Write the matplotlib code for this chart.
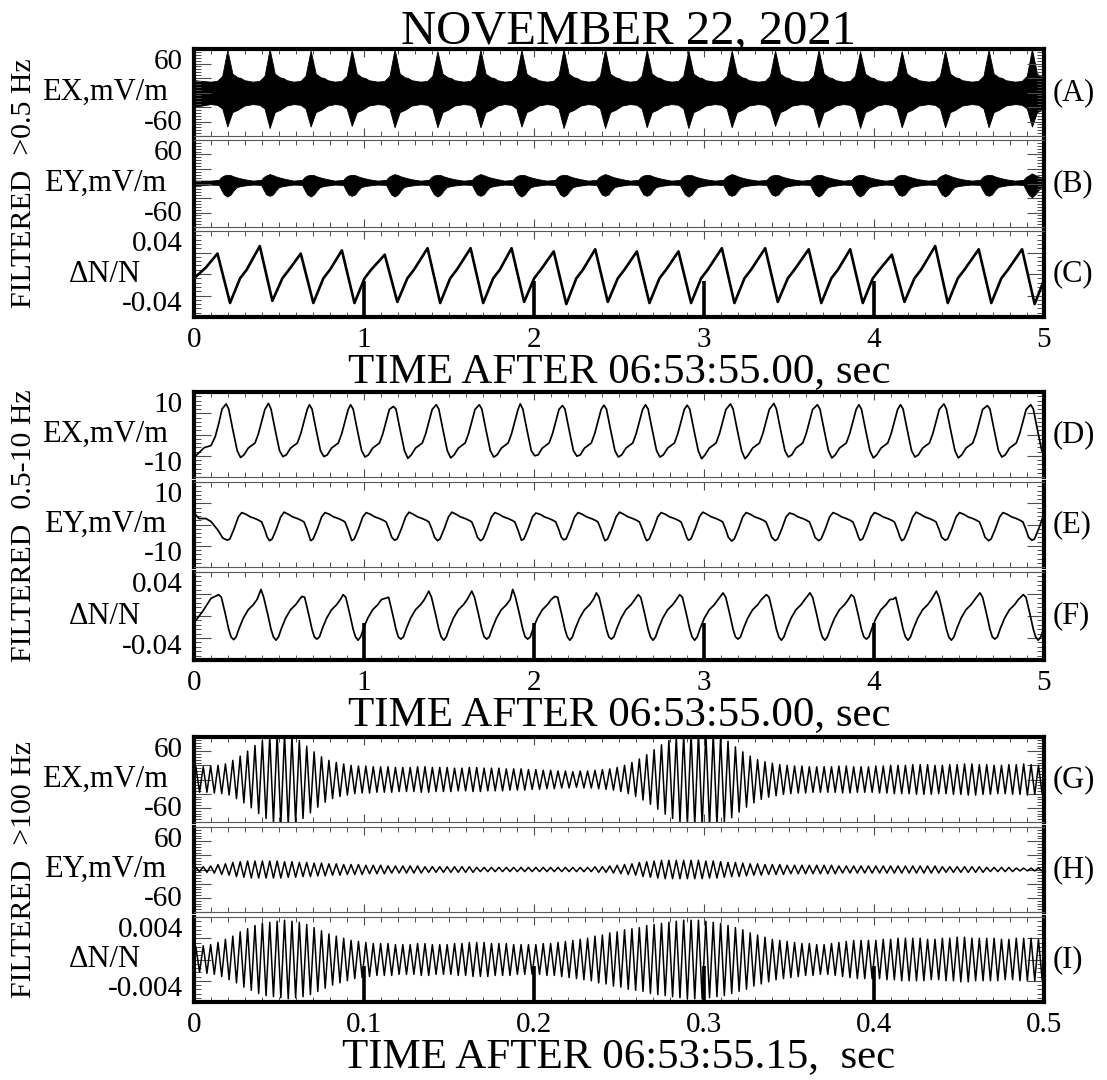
import numpy as np
import matplotlib.pyplot as plt
from matplotlib.ticker import MultipleLocator

plt.rcParams['font.family'] = ['Liberation Serif', 'DejaVu Serif']

title = 'NOVEMBER 22, 2021'

# times of the repeating bursts in the 5 s records (s after 06:53:55.00)
burst_t = [0.196, 0.445, 0.686, 0.928, 1.180, 1.432, 1.685, 1.926, 2.174, 2.418,
           2.663, 2.908, 3.163, 3.418, 3.674, 3.918, 4.163, 4.418, 4.674, 4.929]

# (A) EX > 0.5 Hz: envelope of the dense trace, mV/m
ex_hi_peak = [59, 60, 58, 59, 60, 57, 59, 59, 60, 60, 59, 58, 58, 58, 59, 57, 57, 58, 59, 60]
ex_hi_trough = [-47, -49, -47, -46, -48, -48, -48, -47, -49, -49, -48, -49, -48, -46, -48, -49, -48, -48, -48, -47]
ex_hi_dt = [-0.10, -0.06, -0.03, 0.0, 0.03, 0.06, 0.08, 0.10]
ex_hi_top = [15, 16, 23, 'P', 26, 21, 20, 17]
ex_hi_bot = [-16, -17, -22, 'M', -27, -24, -21, -18]

# (B) EY > 0.5 Hz
ey_hi_peak = [12, 13, 12, 12, 13, 12, 13, 12, 12, 13, 12, 12, 13, 12, 12, 12, 12, 13, 12, 14]
ey_hi_trough = [-18, -17, -18, -17, -18, -18, -17, -18, -18, -17, -17, -18, -17, -17, -18, -18, -17, -18, -17, -19]
ey_hi_dt = [-0.10, -0.05, -0.035, -0.02, 0.0, 0.02, 0.035, 0.055, 0.08, 0.11]
ey_hi_top = [4, 5, 9, 11, 'P', 11.5, 10, 8.5, 7, 5.5]
ey_hi_bot = [-1.5, -2, -9, -15, 'M', -15, -10, -5, -3.5, -2.5]

# (C) dN/N > 0.5 Hz
dn_hi_peak = [0.019, 0.026, 0.019, 0.022, 0.018, 0.024, 0.024, 0.024, 0.021, 0.023,
              0.021, 0.021, 0.024, 0.024, 0.023, 0.023, 0.018, 0.026, 0.023, 0.023]
dn_hi_min = [-0.027, -0.025, -0.027, -0.027, -0.026, -0.027, -0.027, -0.026, -0.028, -0.026,
             -0.027, -0.027, -0.027, -0.026, -0.027, -0.027, -0.026, -0.027, -0.027, -0.028]
dn_hi_dt = [-0.058, 0.016, 0.075, 0.114]
dn_hi_shape = ['P', 'M', -0.004, 0.004]

# (D) EX 0.5-10 Hz
ex_lo_peak = [7.2, 7.3, 7.0, 7.0, 6.6, 7.0, 7.0, 7.2, 6.8, 6.9, 7.0, 6.9, 7.2, 7.3, 7.0, 7.0, 7.0, 7.2, 6.8, 7.0]
ex_lo_min = [-5.4, -5.2, -5.2, -5.3, -5.6, -5.5, -5.3, -5.0, -5.1, -5.3, -5.3, -5.7, -5.7, -5.3, -5.5, -5.5, -5.3, -5.5, -5.3, -5.2]
ex_lo_dt = [-0.007, 0.008, 0.033, 0.058, 0.078, 0.098, 0.123, 0.143, 0.163, 0.183, 0.203, 0.221]
ex_lo_shape = ['P', 6.0, 1.0, -3.8, 'M', -4.8, -3.2, -2.6, -2.0, 0.2, 3.2, 5.9]

# (E) EY 0.5-10 Hz
ey_lo_peak = [2.8, 2.9, 2.8, 2.8, 2.9, 2.9, 2.8, 2.7, 2.8, 2.9, 2.8, 2.9, 2.8, 2.7, 2.8, 2.8, 2.9, 2.8, 2.8, 2.8]
ey_lo_min = [-3.7, -3.8, -3.8, -3.8, -3.7, -3.8, -3.8, -3.7, -3.6, -3.8, -3.8, -3.7, -3.9, -3.8, -3.8, -3.7, -3.8, -3.7, -3.8, -3.7]
ey_lo_dt = [0.0, 0.015, 0.04, 0.065, 0.085, 0.11, 0.135, 0.163, 0.185, 0.202, 0.22, 0.235]
ey_lo_shape = ['M', -3.4, -1.0, 1.8, 'P', 2.4, 1.8, 1.4, 1.0, 0.6, -1.2, -3.0]

# (F) dN/N 0.5-10 Hz
dn_lo_peak = [0.0194, 0.0242, 0.0178, 0.0194, 0.0162, 0.0226, 0.0226, 0.0242, 0.0178, 0.021,
              0.0194, 0.0194, 0.021, 0.0194, 0.021, 0.0194, 0.0152, 0.0226, 0.021, 0.0194]
dn_lo_min = [-0.0215, -0.022, -0.021, -0.022, -0.021, -0.022, -0.021, -0.021, -0.022, -0.021,
             -0.022, -0.022, -0.021, -0.022, -0.022, -0.021, -0.022, -0.022, -0.021, -0.022]
dn_lo_dt = [-0.051, -0.035, -0.012, 0.008, 0.022, 0.037, 0.052, 0.07, 0.094, 0.123, 0.153, 0.175]
dn_lo_shape = ['P', 0.017, 0.002, -0.012, -0.019, 'M', -0.019, -0.011, -0.002, 0.0057, 0.0103, 0.015]

# (G)(H)(I) > 100 Hz, amplitude of each wave cycle over 0.5 s
ex_vlf_amp = [18, 18, 19, 20, 22, 27, 33, 40, 48, 55, 61, 64, 64, 61, 55, 47, 39, 32, 27, 24, 22, 20, 19,
              19, 18, 18, 18, 17, 17, 17, 18, 18, 17, 17, 17, 16, 16, 17, 17, 16, 16, 16, 15, 15, 15, 14,
              14, 13, 13, 12, 12, 11, 12, 12, 13, 14, 15,
              17, 20, 24, 29, 35, 42, 49, 55, 60, 63, 65, 66, 66, 64, 60, 54, 46, 39, 33, 28, 25, 23, 21, 20,
              19, 19, 18, 18, 18, 18, 19, 19, 18, 18, 18,
              19, 19, 20, 20, 20, 21, 21, 21, 20, 20, 21, 21, 22, 22, 21, 21, 20, 20, 21, 21, 22, 21, 20]
ey_vlf_amp = [3, 4, 5, 7, 8, 10, 11, 12, 12, 12, 12, 12, 11, 11, 10, 10, 9, 9, 8, 8, 7, 7, 7,
              6, 6, 6, 5, 5, 5, 5, 5, 4, 4, 4, 4, 4, 4, 4, 3, 3, 3, 3, 3, 3, 3, 3,
              3, 3, 3, 3, 3, 3, 3, 3, 4, 4, 5,
              6, 7, 8, 10, 11, 12, 13, 13, 13, 13, 13, 13, 12, 12, 11, 10, 10, 9, 8, 8, 7, 7, 7, 6,
              6, 6, 6, 6, 6, 6, 5, 5, 5, 5, 5,
              5, 5, 5, 5, 5, 5, 5, 5, 5, 4, 4, 4, 4, 4, 4, 3, 3, 3, 3, 2, 2, 2, 2]
dn_vlf_amp = [1.2, 1.3, 1.4, 1.6, 1.9, 2.2, 2.6, 2.9, 3.2, 3.4, 3.5, 3.6, 3.7, 3.6, 3.5, 3.3, 3.0, 2.7, 2.4, 2.2, 2.0, 1.8, 1.7,
              1.6, 1.5, 1.5, 1.5, 1.4, 1.4, 1.4, 1.5, 1.5, 1.4, 1.4, 1.4, 1.5, 1.5, 1.6, 1.6, 1.6, 1.5, 1.5, 1.5, 1.4, 1.4, 1.4,
              1.4, 1.5, 1.5, 1.6, 1.7, 1.8, 1.9, 2.0, 2.2, 2.3, 2.5,
              2.6, 2.8, 2.9, 3.0, 3.2, 3.3, 3.4, 3.5, 3.6, 3.7, 3.7, 3.7, 3.6, 3.5, 3.4, 3.2, 3.0, 2.8, 2.5, 2.3, 2.1, 1.9, 1.8, 1.7,
              1.6, 1.5, 1.5, 1.4, 1.4, 1.5, 1.6, 1.7, 1.8, 1.8, 1.8,
              1.8, 1.9, 1.9, 2.0, 2.0, 2.0, 2.0, 1.9, 1.9, 2.0, 2.0, 2.1, 2.1, 2.0, 2.0, 2.0, 2.0, 1.9, 1.9, 2.0, 2.0, 2.0, 1.9]


def build(times, offsets, shape, peaks, troughs, t0=(), v0=()):
    t, v = list(t0), list(v0)
    for ts, p, m in zip(times, peaks, troughs):
        for dt, s in zip(offsets, shape):
            t.append(ts + dt)
            v.append(p if s == 'P' else m if s == 'M' else s)
    return np.array(t), np.array(v)


def wave(amp, scale=1.0, tmax=0.5):
    n = len(amp)
    T = tmax / n
    a = [x * scale for x in amp]
    return build(np.arange(n) * T, [0.25 * T, 0.75 * T], ['P', 'M'], a, [-x for x in a], [0], [0])


W, H = 1107, 1080
fig = plt.figure(figsize=(W / 100, H / 100), dpi=100)

rows = [[(49, 136), (140, 227), (231, 317)],
        [(392, 477), (482, 567), (572, 660)],
        [(737, 822), (827, 912), (917, 1002)]]
group_text = ['FILTERED  >0.5 Hz', 'FILTERED  0.5-10 Hz', 'FILTERED  >100 Hz']
xlabels = ['TIME AFTER 06:53:55.00, sec', 'TIME AFTER 06:53:55.00, sec', 'TIME AFTER 06:53:55.15,  sec']
xmaxes = [5, 5, 0.5]
tick_txt = [['0', '1', '2', '3', '4', '5']] * 2 + [['0', '0.1', '0.2', '0.3', '0.4', '0.5']]

panels = [
    dict(lim=60, major=20, minor=4, lab=('-60', '60'), name='EX,mV/m', tag='(A)'),
    dict(lim=60, major=20, minor=4, lab=('-60', '60'), name='EY,mV/m', tag='(B)'),
    dict(lim=0.04, major=0.02, minor=0.004, lab=('-0.04', '0.04'), name='ΔN/N', tag='(C)'),
    dict(lim=10, major=5, minor=1, lab=('-10', '10'), name='EX,mV/m', tag='(D)'),
    dict(lim=10, major=5, minor=1, lab=('-10', '10'), name='EY,mV/m', tag='(E)'),
    dict(lim=0.04, major=0.02, minor=0.004, lab=('-0.04', '0.04'), name='ΔN/N', tag='(F)'),
    dict(lim=60, major=20, minor=4, lab=('-60', '60'), name='EX,mV/m', tag='(G)'),
    dict(lim=60, major=20, minor=4, lab=('-60', '60'), name='EY,mV/m', tag='(H)'),
    dict(lim=0.004, major=0.002, minor=0.0004, lab=('-0.004', '0.004'), name='ΔN/N', tag='(I)'),
]

axes = []
for g in range(3):
    xmax = xmaxes[g]
    for r, (top, bot) in enumerate(rows[g]):
        p = panels[g * 3 + r]
        ax = fig.add_axes([194 / W, 1 - bot / H, 850 / W, (bot - top) / H])
        axes.append(ax)
        ax.set_xlim(0, xmax)
        ax.set_ylim(-p['lim'], p['lim'])
        for side in ['left', 'right']:
            ax.spines[side].set_linewidth(3)
        ax.spines['top'].set_linewidth(3 if r == 0 else 0.8)
        ax.spines['bottom'].set_linewidth(3 if r == 2 else 0.8)
        if r > 0:
            ax.spines['top'].set_color('0.35')
        if r < 2:
            ax.spines['bottom'].set_color('0.35')

        xt = np.linspace(0, xmax, 6)
        ax.set_xticks(xt)
        ax.xaxis.set_minor_locator(MultipleLocator(xmax / 50))
        if r == 2:
            ax.set_xticklabels(tick_txt[g], fontsize=21)
            ax.set_xlabel(xlabels[g], fontsize=31, labelpad=0)
            ax.vlines(xt[1:-1], 0, 0.42, transform=ax.get_xaxis_transform(), color='k', lw=2.6)
        else:
            ax.set_xticklabels([])

        yt = np.arange(-p['lim'], p['lim'] + p['major'] / 2, p['major'])
        ax.set_yticks(yt)
        lbl = [''] * len(yt)
        lbl[0], lbl[-1] = p['lab']
        ax.set_yticklabels(lbl, fontsize=21)
        tl = ax.get_yticklabels()
        tl[0].set_va('bottom')
        tl[-1].set_va('top')
        ax.yaxis.set_minor_locator(MultipleLocator(p['minor']))

        ax.tick_params(axis='both', which='both', direction='in', top=True, right=True, color='0.3')
        ax.tick_params(axis='x', which='major', length=6, width=0.8, pad=7)
        ax.tick_params(axis='x', which='minor', length=3.5, width=0.7)
        ax.tick_params(axis='y', which='major', length=12, width=0.8, pad=8)
        ax.tick_params(axis='y', which='minor', length=5, width=0.7)

        ax.text(-0.105, 0.5, p['name'], transform=ax.transAxes, ha='center', va='center', fontsize=22)
        ax.text(1.01, 0.5, p['tag'], transform=ax.transAxes, ha='left', va='center', fontsize=22)

    gc = (rows[g][0][0] + rows[g][2][1]) / 2
    fig.text(24 / W, 1 - gc / H, group_text[g], rotation=90, ha='center', va='center', fontsize=21.5)

fig.text(628 / W, 1 - 31 / H, title, ha='center', va='center', fontsize=35)

# (A), (B): dense traces shown as filled envelopes
t, up = build(burst_t, ex_hi_dt, ex_hi_top, ex_hi_peak, ex_hi_trough, [0], [17])
t, lo = build(burst_t, ex_hi_dt, ex_hi_bot, ex_hi_peak, ex_hi_trough, [0], [-20])
axes[0].fill_between(t, lo, up, color='k', lw=0.6)
t, up = build(burst_t, ey_hi_dt, ey_hi_top, ey_hi_peak, ey_hi_trough, [0], [4])
t, lo = build(burst_t, ey_hi_dt, ey_hi_bot, ey_hi_peak, ey_hi_trough, [0], [-3])
axes[1].fill_between(t, lo, up, color='k', lw=0.6)

t, v = build(burst_t, dn_hi_dt, dn_hi_shape, dn_hi_peak, dn_hi_min, [0, 0.07], [-0.004, 0.006])
axes[2].plot(t, v, color='k', lw=1.9)

t, v = build(burst_t, ex_lo_dt, ex_lo_shape, ex_lo_peak, ex_lo_min,
             [0, 0.06, 0.10, 0.125, 0.145, 0.165], [-5.4, -3.1, -2.6, -0.5, 2.5, 6.0])
axes[3].plot(t, v, color='k', lw=1.25)
t, v = build(burst_t, ey_lo_dt, ey_lo_shape, ey_lo_peak, ey_lo_min,
             [0, 0.03, 0.07, 0.10, 0.14, 0.17], [2.7, 1.4, 1.4, 0.7, -1.3, -3.2])
axes[4].plot(t, v, color='k', lw=1.25)
t, v = build(burst_t, dn_lo_dt, dn_lo_shape, dn_lo_peak, dn_lo_min, [0, 0.05, 0.10], [-0.006, 0.004, 0.016])
axes[5].plot(t, v, color='k', lw=1.25)

t, v = wave(ex_vlf_amp)
axes[6].plot(t, v, color='k', lw=1.1)
t, v = wave(ey_vlf_amp)
axes[7].plot(t, v, color='k', lw=1.1)
t, v = wave(dn_vlf_amp, 1e-3)
axes[8].plot(t, v, color='k', lw=1.1)

fig.savefig('out.png', dpi=100)
